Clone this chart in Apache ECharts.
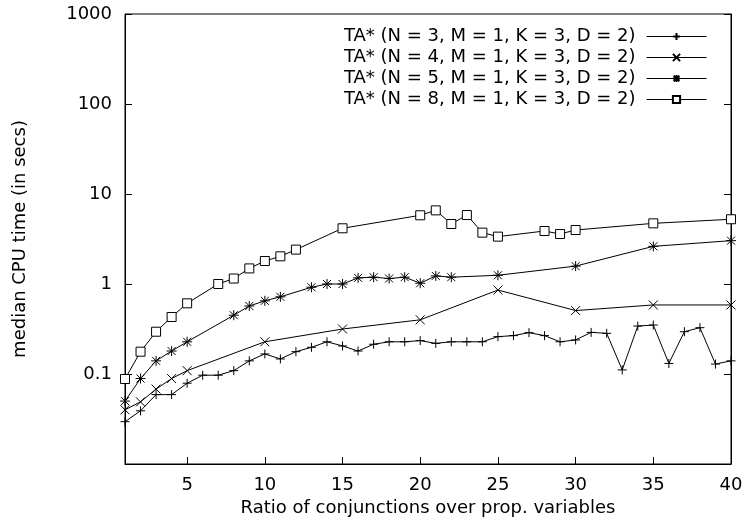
<!DOCTYPE html>
<html>
<head>
<meta charset="utf-8">
<script src="https://cdn.jsdelivr.net/npm/echarts@6/dist/echarts.min.js"></script>
<style>html,body{margin:0;padding:0;background:#fff}#c{width:746px;height:529px}</style>
</head>
<body>
<div id="c"></div>
<script>
var xN3 = [1,2,3,4,5,6,7,8,9,10,11,12,13,14,15,16,17,18,19,20,21,22,23,24,25,26,27,28,29,30,31,32,33,34,35,36,37,38,39,40];
var yN3 = [0.0295,0.039,0.059,0.059,0.079,0.097,0.097,0.109,0.14,0.167,0.147,0.177,0.198,0.228,0.205,0.18,0.214,0.228,0.228,0.235,0.219,0.228,0.228,0.228,0.26,0.267,0.288,0.267,0.228,0.239,0.29,0.283,0.111,0.341,0.35,0.131,0.295,0.327,0.129,0.14];
var xN4 = [1,2,3,4,5,10,15,20,25,30,35,40];
var yN4 = [0.040,0.049,0.068,0.089,0.109,0.228,0.316,0.40,0.857,0.507,0.585,0.585];
var xN5 = [1,2,3,4,5,8,9,10,11,13,14,15,16,17,18,19,20,21,22,25,30,35,40];
var yN5 = [0.050,0.089,0.14,0.18,0.228,0.45,0.57,0.65,0.72,0.92,1.0,1.0,1.17,1.19,1.15,1.19,1.02,1.23,1.19,1.25,1.58,2.62,3.03];
var xN8 = [1,2,3,4,5,7,8,9,10,11,12,15,20,21,22,23,24,25,28,29,30,35,40];
var yN8 = [0.088,0.177,0.295,0.43,0.61,1.0,1.15,1.49,1.80,2.03,2.41,4.16,5.8,6.58,4.64,5.84,3.72,3.36,3.88,3.59,3.98,4.72,5.24];
var seriesNames = ['TA* (N = 3, M = 1, K = 3, D = 2)','TA* (N = 4, M = 1, K = 3, D = 2)','TA* (N = 5, M = 1, K = 3, D = 2)','TA* (N = 8, M = 1, K = 3, D = 2)'];
var xTicks = [5,10,15,20,25,30,35,40];
var yTicks = [0.1,1,10,100,1000];

var FONT = 'DejaVu Sans';
var SYM_PLUS = 'path://M0,5L10,5M5,0L5,10';
var SYM_X = 'path://M0,0L10,10M10,0L0,10';
var SYM_STAR = 'path://M0,5L10,5M5,0L5,10M1,1L9,9M9,1L1,9';
var SYM_SQ = 'path://M0,0L10,0L10,10L0,10Z';

function zip(xs, ys){ return xs.map(function(x,i){return [x, ys[i]];}); }
function mk(name, xs, ys, sym, size){
  var isRect = sym === SYM_SQ;
  return {
    name: name, type: 'line', data: zip(xs, ys),
    symbol: sym, symbolSize: size, showAllSymbol: true,
    lineStyle: {color:'#000', width:1},
    itemStyle: {color: isRect ? '#fff' : 'none', borderColor:'#000', borderWidth:1},
    emphasis: {disabled: true},
    animation: false
  };
}

var chart = echarts.init(document.getElementById('c'), null, {renderer:'canvas'});
chart.setOption({
  backgroundColor: '#fff',
  animation: false,
  grid: {left:125, right:15, top:14, bottom:65, show:true, borderColor:'#000', borderWidth:1, containLabel:false},
  legend: {
    orient: 'vertical', right: 34, top: 21, align: 'right',
    itemWidth: 60, itemHeight: 9, itemGap: 0,
    lineStyle: {width: 1},
    textStyle: {fontFamily: FONT, fontSize: 18, color:'#000', lineHeight: 21, padding:[0,6,0,0]},
    data: seriesNames
  },
  xAxis: {
    type: 'value', min: 1, max: 40,
    axisLine: {show:true, lineStyle:{color:'#000', width:1}},
    axisTick: {show:true, inside:true, length:7, lineStyle:{color:'#000'}, customValues: xTicks},
    axisLabel: {fontFamily: FONT, fontSize: 18, color:'#000', margin: 12, customValues: xTicks},
    splitLine: {show:false},
    name: 'Ratio of conjunctions over prop. variables', nameLocation:'middle', nameGap: 32,
    nameTextStyle: {fontFamily: FONT, fontSize: 18, color:'#000'}
  },
  yAxis: [{
    type: 'log', logBase: 10, min: 0.01, max: 1000,
    axisLine: {show:true, lineStyle:{color:'#000', width:1}},
    axisTick: {show:true, inside:true, length:7, lineStyle:{color:'#000'}},
    axisLabel: {fontFamily: FONT, fontSize: 18, color:'#000', margin: 13,
      formatter: function(v){ for (var i=0;i<yTicks.length;i++){ if (Math.abs(v/yTicks[i]-1)<1e-6) return String(yTicks[i]); } return ''; }},
    splitLine: {show:false},
    name: 'median CPU time (in secs)', nameLocation:'middle', nameGap: 96, nameRotate: 90,
    nameTextStyle: {fontFamily: FONT, fontSize: 18, color:'#000'}
  },{
    type: 'log', logBase: 10, min: 0.01, max: 1000, position: 'right',
    axisLine: {show:true, lineStyle:{color:'#000', width:1}},
    axisTick: {show:true, inside:true, length:7, lineStyle:{color:'#000'}},
    axisLabel: {show:false}, splitLine: {show:false}
  }],
  series: [
    mk(seriesNames[0], xN3, yN3, SYM_PLUS, 9),
    mk(seriesNames[1], xN4, yN4, SYM_X, 9),
    mk(seriesNames[2], xN5, yN5, SYM_STAR, 10),
    mk(seriesNames[3], xN8, yN8, SYM_SQ, 9)
  ]
});
</script>
</body>
</html>
